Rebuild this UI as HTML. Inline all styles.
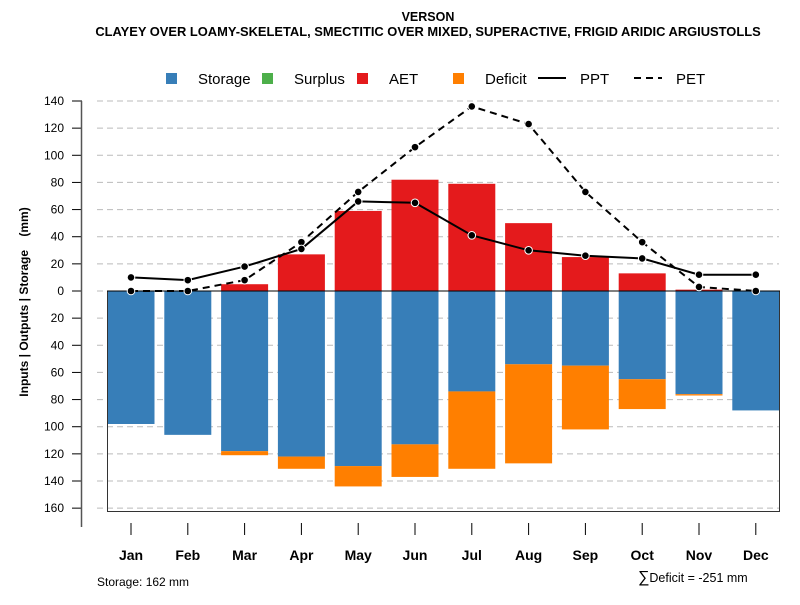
<!DOCTYPE html>
<html><head><meta charset="utf-8"><style>
body{margin:0;background:#fff}
svg text{font-family:"Liberation Sans",sans-serif}
</style></head><body>
<svg width="800" height="600" xmlns="http://www.w3.org/2000/svg">
<g id="grid"></g>
<g id="bars"></g>
<g id="lines"></g>
<g id="axis"></g>
<g id="xaxis"></g>
<text x="428" y="21" text-anchor="middle" font-size="12.5" font-weight="bold">VERSON</text>
<text x="428" y="36" text-anchor="middle" font-size="12.9" font-weight="bold">CLAYEY OVER LOAMY-SKELETAL, SMECTITIC OVER MIXED, SUPERACTIVE, FRIGID ARIDIC ARGIUSTOLLS</text>
<g font-size="15">
<rect x="166" y="73" width="11" height="11" fill="#377eb8"/><text x="198" y="84">Storage</text>
<rect x="262" y="73" width="11" height="11" fill="#4daf4a"/><text x="294" y="84">Surplus</text>
<rect x="357" y="73" width="11" height="11" fill="#e41a1c"/><text x="389" y="84">AET</text>
<rect x="453" y="73" width="11" height="11" fill="#ff7f00"/><text x="485" y="84">Deficit</text>
<line x1="538" y1="78" x2="566" y2="78" stroke="#000" stroke-width="2"/><text x="580" y="84">PPT</text>
<line x1="634" y1="78" x2="662" y2="78" stroke="#000" stroke-width="2" stroke-dasharray="7,5"/><text x="676" y="84">PET</text>
</g>
<text x="28" y="302" transform="rotate(-90 28 302)" text-anchor="middle" font-size="12" font-weight="bold">Inputs | Outputs | Storage&#160;&#160;&#160;&#160;(mm)</text>
<text x="97" y="586" font-size="12">Storage: 162 mm</text>
<text x="638" y="582" font-size="12.5"><tspan font-size="16">∑</tspan>Deficit = -251 mm</text>
</svg>
<script>
const months=["Jan","Feb","Mar","Apr","May","Jun","Jul","Aug","Sep","Oct","Nov","Dec"];
const aet=[0,0,5,27,59,82,79,50,25,13,1,0];
const storage=[98,106,118,122,129,113,74,54,55,65,76,88];
const deficit=[0,0,3,9,15,24,57,73,47,22,1,0];
const ppt=[10,8,18,31,66,65,41,30,26,24,12,12];
const pet=[0,0,8,36,73,106,136,123,73,36,3,0];
const yTicks=[140,120,100,80,60,40,20,0,-20,-40,-60,-80,-100,-120,-140,-160];
const NS="http://www.w3.org/2000/svg";
const y0=291,k=190/140;
const Y=v=>y0-v*k;
const X=i=>131+i*56.8;
const bw=47;
function mk(t,a,p){const e=document.createElementNS(NS,t);for(const q in a)e.setAttribute(q,a[q]);p.appendChild(e);return e;}
const grid=document.getElementById('grid'),bars=document.getElementById('bars'),lines=document.getElementById('lines'),axis=document.getElementById('axis'),xaxis=document.getElementById('xaxis');
yTicks.forEach(v=>{
 const g=mk('line',{x1:97,x2:779,y1:Y(v),y2:Y(v),stroke:'#bbb','stroke-dasharray':'6,4'},grid);
 
 
 const t=mk('line',{x1:72,x2:82,y1:Y(v),y2:Y(v),stroke:'#000'},axis);
 
 
 const l=mk('text',{x:64,y:Y(v)+4,'text-anchor':'end','font-size':12},axis);
 l.textContent=Math.abs(v);
 
 
});
const ax=mk('line',{x1:81.5,x2:81.5,y1:Y(140),y2:527,stroke:'#555','stroke-width':1.5},axis);


months.forEach((m,i)=>{
 const x=X(i)-bw/2;
 const a=mk('rect',{x:x,y:Y(aet[i]),width:bw,height:aet[i]*k,fill:'#e41a1c'},bars);
 
 
 const s=mk('rect',{x:x,y:y0,width:bw,height:storage[i]*k,fill:'#377eb8'},bars);
 
 
 const d=mk('rect',{x:x,y:Y(-storage[i]),width:bw,height:deficit[i]*k,fill:'#ff7f00'},bars);
 
 
 const t=mk('line',{x1:X(i),x2:X(i),y1:523,y2:535,stroke:'#000'},xaxis);
 
 
 const l=mk('text',{x:X(i),y:560,'text-anchor':'middle','font-size':14,'font-weight':'bold'},xaxis);
 l.textContent=m;
 
 
});
const box=mk('path',{d:'M107.5 291V511.5H779.5V291',fill:'none',stroke:'#333'},bars);


const zl=mk('line',{x1:107,x2:780,y1:y0,y2:y0,stroke:'#000'},bars);


[[pet,'7,5','pet'],[ppt,null,'ppt']].forEach(([arr,dash,nm])=>{
 const a={points:arr.map((v,i)=>X(i)+','+Y(v)).join(' '),fill:'none',stroke:'#000','stroke-width':2};
 if(dash)a['stroke-dasharray']=dash;
 const p=mk('polyline',a,lines);
 
 
 arr.forEach((v,i)=>{
  const c=mk('circle',{cx:X(i),cy:Y(v),r:3.8,fill:'#000',stroke:'#fff','stroke-width':1},lines);
  
  
 });
});
</script>
</body></html>
